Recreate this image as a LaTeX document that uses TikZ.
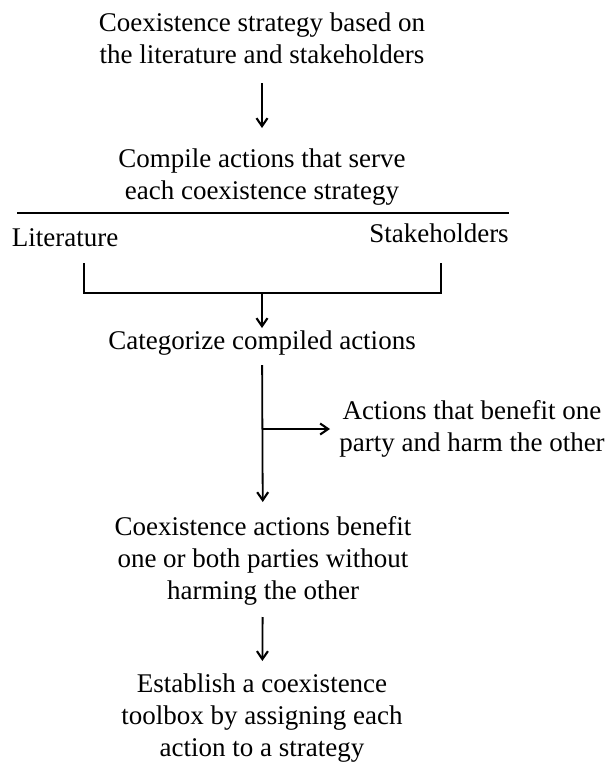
\documentclass[tikz,border=0pt]{standalone}
\usepackage{fontspec}
\setmainfont{Liberation Serif}
\usetikzlibrary{positioning, arrows.meta, calc}

\begin{document}
\begin{tikzpicture}[
  x=1pt, y=-1pt,
  font=\fontsize{27}{32}\selectfont,
  txt/.style={align=center, inner sep=0pt},
  ln/.style ={line width=1.8pt},
  arr/.style={-{Straight Barb[length=8pt, width=11pt, line width=2.1pt]}, line width=1.8pt},
]
\useasboundingbox (0,0) rectangle (606,763);
\node[txt] (basis)   at (262,38)  {Coexistence strategy based on\\the literature and stakeholders};
\node[txt] (compile) at (262,177) {Compile actions that serve\\each coexistence strategy};
\node[txt] (lit)     at (65,238)  {Literature};
\node[txt] (stake)   at (439,233) {Stakeholders};
\node[txt] (categ)   at (262,343) {Categorize compiled actions};
\node[txt] (harm)    at (472,429) {Actions that benefit one\\party and harm the other};
\node[txt] (benefit) at (263,561) {Coexistence actions benefit\\one or both parties without\\harming the other};
\node[txt] (toolbox) at (262,718) {Establish a coexistence\\toolbox by assigning each\\action to a strategy};
% rule under the compile step and the bracket joining both sources
\coordinate (ruleL) at (17,213);
\coordinate (ruleR) at (509,213);
\coordinate (brL) at (84,263);
\coordinate (brR) at (441,263);
\coordinate (brM) at (262,293);
\coordinate (split) at (262,429);
\draw[ln] (ruleL) -- (ruleR);
\draw[ln] (brL) |- (brM) -| (brR);
\draw[arr, shorten <=45pt, shorten >=49pt] (basis.center) -- (compile.center);
\draw[arr, shorten >=15pt] (brM) -- (categ.center);
\draw[arr, shorten <=22pt, shorten >=59pt] (categ.center) -- (benefit.center);
\draw[arr, shorten >=142pt] (split) -- (harm.center |- split);
\draw[arr, shorten <=56pt, shorten >=57pt] (benefit.center) -- (toolbox.center);
\end{tikzpicture}
\end{document}
